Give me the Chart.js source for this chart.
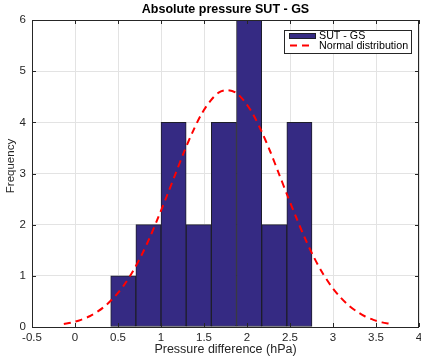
<!DOCTYPE html>
<html>
<head>
<meta charset="utf-8">
<script src="https://cdn.jsdelivr.net/npm/chart.js@4.4.1/dist/chart.umd.min.js"></script>
<style>
  html, body { margin: 0; padding: 0; background: #ffffff; }
  #wrap { width: 421px; height: 361px; }
</style>
</head>
<body>
<div id="wrap"><canvas id="c" width="421" height="361"></canvas></div>
<script>
// Histogram bins (hPa) and their counts
const binEdges = [0.415, 0.708, 1.000, 1.293, 1.585, 1.878, 2.171, 2.463, 2.756];
const binCounts = [1, 2, 4, 2, 4, 6, 2, 4];

// Fitted normal distribution, scaled to the histogram
const curveX = [-0.13, -0.03, 0.07, 0.17, 0.27, 0.37, 0.47, 0.57, 0.67, 0.77,
                0.87, 0.97, 1.07, 1.17, 1.27, 1.37, 1.47, 1.57, 1.67, 1.77,
                1.87, 1.97, 2.07, 2.17, 2.27, 2.37, 2.47, 2.57, 2.67, 2.77,
                2.87, 2.97, 3.07, 3.17, 3.27, 3.37, 3.47, 3.57, 3.67];
const curveY = [0.06, 0.09, 0.14, 0.21, 0.31, 0.44, 0.61, 0.82, 1.08, 1.39,
                1.75, 2.15, 2.57, 3.00, 3.43, 3.82, 4.16, 4.41, 4.58, 4.63,
                4.58, 4.41, 4.16, 3.82, 3.43, 3.00, 2.57, 2.15, 1.75, 1.39,
                1.08, 0.82, 0.61, 0.44, 0.31, 0.21, 0.14, 0.09, 0.06];

// Axis ticks
const xTicks = [-0.5, 0, 0.5, 1, 1.5, 2, 2.5, 3, 3.5, 4];
const yTicks = [0, 1, 2, 3, 4, 5, 6];

const titleText = 'Absolute pressure SUT - GS';
const xTitle = 'Pressure difference (hPa)';
const yTitle = 'Frequency';
const seriesNames = ['SUT - GS', 'Normal distribution'];

const FONT = '"Liberation Sans", Arial, Helvetica, sans-serif';
const BAR_FILL = '#352a83';
const BAR_EDGE = '#1e1e2a';
const CURVE = '#ff0000';
const AXIS = '#262626';

const barData = binCounts.map((c, i) => ({ x: (binEdges[i] + binEdges[i + 1]) / 2, y: c }));
const curveData = curveX.map((x, i) => ({ x: x, y: curveY[i] }));

// Frame, inward ticks, titles and legend in the MATLAB figure style
const decor = {
  id: 'decor',
  afterDraw(chart) {
    const ctx = chart.ctx;
    const a = chart.chartArea;
    const xs = chart.scales.x, ys = chart.scales.y;
    ctx.save();
    // frame
    ctx.strokeStyle = AXIS;
    ctx.lineWidth = 1;
    ctx.strokeRect(Math.round(a.left) + 0.5, Math.round(a.top) + 0.5,
                   Math.round(a.right - a.left) - 1, Math.round(a.bottom - a.top));
    // inward tick marks
    ctx.beginPath();
    xTicks.forEach(v => {
      const px = Math.round(xs.getPixelForValue(v)) + 0.5;
      ctx.moveTo(px, a.bottom); ctx.lineTo(px, a.bottom - 4);
      ctx.moveTo(px, a.top); ctx.lineTo(px, a.top + 4);
    });
    yTicks.forEach(v => {
      const py = Math.round(ys.getPixelForValue(v)) + 0.5;
      ctx.moveTo(a.left, py); ctx.lineTo(a.left + 4, py);
      ctx.moveTo(a.right, py); ctx.lineTo(a.right - 4, py);
    });
    ctx.stroke();

    // titles
    const cx = (a.left + a.right) / 2;
    ctx.fillStyle = '#000';
    ctx.textAlign = 'center';
    ctx.textBaseline = 'middle';
    ctx.font = 'bold 12.5px ' + FONT;
    ctx.fillText(titleText, cx, 10);
    ctx.fillStyle = '#262626';
    ctx.font = '12.5px ' + FONT;
    ctx.fillText(xTitle, cx, 350);
    ctx.save();
    ctx.translate(11, 166);
    ctx.rotate(-Math.PI / 2);
    ctx.font = '11.5px ' + FONT;
    ctx.fillText(yTitle, 0, 0);
    ctx.restore();

    // legend
    const lx = 284, ly = 30, lw = 127, lh = 23;
    ctx.fillStyle = '#fff';
    ctx.fillRect(lx, ly, lw, lh);
    ctx.strokeStyle = AXIS;
    ctx.strokeRect(lx + 0.5, ly + 0.5, lw, lh);
    ctx.fillStyle = BAR_FILL;
    ctx.fillRect(289, 33, 27, 6);
    ctx.strokeStyle = BAR_EDGE;
    ctx.strokeRect(289.5, 33.5, 26, 5);
    ctx.strokeStyle = CURVE;
    ctx.lineWidth = 2;
    ctx.setLineDash([7, 5]);
    ctx.beginPath();
    ctx.moveTo(290, 45.5); ctx.lineTo(313, 45.5);
    ctx.stroke();
    ctx.setLineDash([]);
    ctx.fillStyle = '#000';
    ctx.textAlign = 'left';
    ctx.font = '10.7px ' + FONT;
    ctx.fillText(seriesNames[0], 319, 36);
    ctx.fillText(seriesNames[1], 319, 46);
    ctx.restore();
  }
};

new Chart(document.getElementById('c'), {
  type: 'bar',
  data: {
    datasets: [
      {
        type: 'line',
        label: seriesNames[1],
        data: curveData,
        borderColor: CURVE,
        borderWidth: 2,
        borderDash: [7, 5],
        pointRadius: 0,
        tension: 0.3,
        fill: false,
        order: 0
      },
      {
        type: 'bar',
        label: seriesNames[0],
        data: barData,
        backgroundColor: BAR_FILL,
        borderColor: BAR_EDGE,
        borderWidth: 1,
        borderSkipped: false,
        barPercentage: 1.0,
        categoryPercentage: 1.0,
        order: 1
      }
    ]
  },
  options: {
    responsive: false,
    animation: false,
    devicePixelRatio: 1,
    layout: { padding: { top: 20, right: 2, left: 0, bottom: 0 } },
    plugins: {
      legend: { display: false },
      title: { display: false },
      tooltip: { enabled: false }
    },
    scales: {
      x: {
        type: 'linear',
        offset: false,
        min: -0.5, max: 4,
        afterFit(s) { s.height = 34; s.paddingLeft = 0; s.paddingRight = 0; },
        afterBuildTicks(s) { s.ticks = xTicks.map(v => ({ value: v })); },
        grid: { color: '#e3e3e3', drawTicks: false, offset: false },
        border: { display: false },
        ticks: {
          padding: 4,
          maxRotation: 0,
          color: '#262626',
          font: { family: FONT, size: 11.5 },
          callback: v => String(v)
        }
      },
      y: {
        type: 'linear',
        min: 0, max: 6,
        afterFit(s) { s.width = 32; s.paddingTop = 0; s.paddingBottom = 0; },
        afterBuildTicks(s) { s.ticks = yTicks.map(v => ({ value: v })); },
        grid: { color: '#e3e3e3', drawTicks: false },
        border: { display: false },
        ticks: {
          padding: 6,
          color: '#262626',
          font: { family: FONT, size: 11.5 },
          callback: v => String(v)
        }
      }
    }
  },
  plugins: [decor]
});
</script>
</body>
</html>
